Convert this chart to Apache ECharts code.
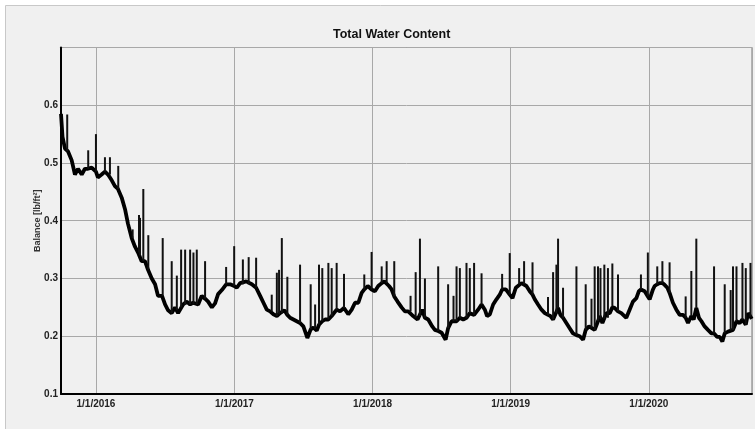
<!DOCTYPE html>
<html>
<head>
<meta charset="utf-8">
<script src="https://cdn.jsdelivr.net/npm/echarts@6/dist/echarts.min.js"></script>
<style>
html,body{margin:0;padding:0;background:#ffffff;}
#c{width:755px;height:429px;}
</style>
</head>
<body>
<div id="c"></div>
<script>
// Decimal-year dates and values of the total water content curve
const years = [
2015.747,2015.758,2015.776,2015.798,2015.824,2015.848,2015.870,2015.897,2015.920,2015.942,2015.969,
2016.000,2016.014,2016.041,2016.065,2016.087,2016.114,2016.137,2016.159,2016.186,2016.210,2016.231,
2016.258,2016.282,2016.304,2016.330,2016.354,2016.376,2016.403,2016.427,2016.448,2016.477,2016.499,
2016.521,2016.547,2016.571,2016.593,2016.629,2016.656,2016.680,2016.701,2016.738,2016.764,2016.788,
2016.810,2016.837,2016.860,2016.882,2016.909,2016.940,2016.969,2016.998,
2017.017,2017.041,2017.085,2017.126,2017.157,2017.186,2017.210,2017.234,2017.258,2017.282,2017.307,
2017.330,2017.362,2017.383,2017.403,2017.427,2017.451,2017.475,2017.499,2017.528,2017.552,2017.571,
2017.596,2017.612,2017.636,2017.656,2017.680,2017.704,2017.740,2017.764,2017.793,2017.824,2017.849,
2017.873,2017.897,2017.921,2017.940,2017.965,2017.993,
2018.017,2018.041,2018.066,2018.085,2018.119,2018.138,2018.157,2018.181,2018.210,2018.234,2018.258,
2018.294,2018.326,2018.359,2018.379,2018.403,2018.432,2018.451,2018.475,2018.500,2018.529,2018.547,
2018.572,2018.608,2018.632,2018.656,2018.680,2018.704,2018.735,2018.764,2018.789,2018.813,2018.829,
2018.849,2018.873,2018.897,2018.921,2018.938,2018.965,2018.993,
2019.013,2019.037,2019.078,2019.114,2019.138,2019.158,2019.174,2019.198,2019.223,2019.247,2019.270,
2019.288,2019.307,2019.343,2019.360,2019.379,2019.403,2019.427,2019.451,2019.476,2019.500,2019.524,
2019.543,2019.567,2019.608,2019.632,2019.644,2019.664,2019.693,2019.717,2019.736,2019.753,2019.777,
2019.801,2019.837,2019.861,2019.885,2019.910,2019.928,2019.943,2019.970,2019.993,
2020.006,2020.030,2020.042,2020.061,2020.078,2020.098,2020.114,2020.134,2020.150,2020.174,2020.199,
2020.223,2020.247,2020.266,2020.283,2020.307,2020.324,2020.343,2020.362,2020.380,2020.403,2020.427,
2020.452,2020.471,2020.492,2020.512,2020.531,2020.548,2020.572,2020.608,2020.633,2020.656,2020.676,
2020.700,2020.717,2020.734,2020.743
];
const values = [
0.585,0.545,0.525,0.520,0.505,0.480,0.490,0.480,0.490,0.490,0.492,
0.485,0.475,0.480,0.485,0.480,0.470,0.460,0.455,0.440,0.420,0.395,
0.370,0.355,0.345,0.330,0.330,0.315,0.300,0.290,0.270,0.270,0.255,
0.245,0.240,0.250,0.240,0.255,0.260,0.255,0.258,0.255,0.270,0.265,
0.260,0.250,0.257,0.273,0.280,0.290,0.290,0.287,
0.284,0.292,0.295,0.290,0.284,0.270,0.258,0.246,0.243,0.238,0.235,
0.240,0.245,0.237,0.232,0.229,0.226,0.223,0.217,0.197,0.212,0.215,
0.210,0.220,0.226,0.229,0.229,0.235,0.246,0.243,0.249,0.238,0.246,
0.258,0.258,0.275,0.281,0.287,0.281,
0.278,0.287,0.292,0.295,0.287,0.281,0.269,0.260,0.250,0.243,0.243,
0.235,0.229,0.246,0.232,0.229,0.217,0.211,0.209,0.206,0.194,0.214,
0.226,0.226,0.232,0.229,0.232,0.240,0.237,0.246,0.255,0.246,0.235,
0.238,0.255,0.264,0.272,0.281,0.281,0.272,
0.266,0.284,0.292,0.287,0.278,0.272,0.264,0.255,0.246,0.240,0.237,
0.235,0.229,0.249,0.237,0.232,0.223,0.214,0.205,0.202,0.200,0.194,
0.211,0.217,0.211,0.226,0.235,0.223,0.240,0.240,0.250,0.249,0.243,
0.240,0.232,0.246,0.260,0.266,0.278,0.281,0.278,0.269,
0.264,0.281,0.287,0.290,0.292,0.292,0.289,0.284,0.275,0.258,0.246,
0.237,0.237,0.232,0.223,0.235,0.229,0.249,0.232,0.226,0.217,0.211,
0.205,0.205,0.199,0.199,0.191,0.205,0.208,0.211,0.226,0.223,0.229,
0.220,0.240,0.234,0.230
];
// Short-lived peaks: date, level before the peak, peak level
const spikeYears = [
2015.792,2015.944,2016.000,2016.065,2016.101,2016.161,2016.265,2016.311,2016.318,2016.342,2016.378,
2016.482,2016.547,2016.584,2016.615,2016.644,2016.680,2016.704,2016.728,2016.788,2016.940,2016.998,
2017.061,2017.103,2017.157,2017.270,2017.307,2017.323,2017.343,2017.383,2017.475,2017.552,2017.584,
2017.612,2017.636,2017.680,2017.704,2017.740,2017.793,2017.940,2017.993,
2018.066,2018.102,2018.157,2018.275,2018.312,2018.343,2018.379,2018.475,2018.547,2018.586,2018.608,
2018.632,2018.680,2018.704,2018.735,2018.789,2018.938,2018.993,
2019.061,2019.097,2019.158,2019.270,2019.307,2019.331,2019.343,2019.379,2019.476,2019.543,2019.585,
2019.608,2019.632,2019.650,2019.678,2019.704,2019.736,2019.777,2019.943,2019.993,
2020.061,2020.098,2020.150,2020.266,2020.307,2020.343,2020.471,2020.548,2020.591,2020.608,2020.633,
2020.676,2020.700,2020.734
];
const spikeBase = [
0.520,0.490,0.485,0.485,0.480,0.455,0.370,0.345,0.340,0.330,0.315,
0.270,0.240,0.245,0.250,0.255,0.255,0.255,0.255,0.265,0.290,0.287,
0.290,0.290,0.284,0.243,0.235,0.238,0.240,0.237,0.223,0.212,0.213,
0.220,0.226,0.229,0.235,0.246,0.249,0.281,0.281,
0.292,0.292,0.269,0.243,0.232,0.235,0.232,0.209,0.214,0.226,0.226,
0.232,0.232,0.240,0.237,0.255,0.281,0.272,
0.290,0.290,0.272,0.237,0.229,0.240,0.249,0.232,0.202,0.211,0.215,
0.211,0.226,0.230,0.230,0.232,0.252,0.243,0.281,0.269,
0.290,0.292,0.275,0.232,0.235,0.249,0.205,0.205,0.210,0.211,0.226,
0.229,0.220,0.234
];
const spikePeak = [
0.584,0.522,0.550,0.510,0.510,0.495,0.385,0.410,0.405,0.455,0.375,
0.370,0.330,0.305,0.350,0.350,0.350,0.345,0.350,0.330,0.320,0.356,
0.333,0.337,0.336,0.272,0.310,0.315,0.370,0.303,0.324,0.290,0.255,
0.324,0.318,0.327,0.318,0.327,0.308,0.307,0.346,
0.321,0.330,0.330,0.270,0.311,0.369,0.300,0.321,0.290,0.270,0.321,
0.318,0.327,0.318,0.327,0.309,0.308,0.344,
0.318,0.330,0.328,0.268,0.311,0.324,0.369,0.284,0.321,0.290,0.265,
0.321,0.321,0.318,0.324,0.318,0.326,0.307,0.307,0.345,
0.321,0.330,0.328,0.269,0.313,0.369,0.321,0.290,0.280,0.321,0.321,
0.327,0.318,0.327
];
const yTicks = [0.1, 0.2, 0.3, 0.4, 0.5, 0.6];

function toTime(yr) {
  const y = Math.floor(yr);
  const a = new Date(y, 0, 1).getTime();
  const b = new Date(y + 1, 0, 1).getTime();
  return a + (yr - y) * (b - a);
}
const lineData = years.map((yr, i) => [toTime(yr), values[i]]);
const spikeData = spikeYears.map((yr, i) => [toTime(yr), spikeBase[i], spikePeak[i]]);

const chart = echarts.init(document.getElementById('c'), null, {renderer: 'canvas'});
const lblFont = {fontFamily: 'Liberation Sans, Arial, sans-serif', fontSize: 10, fontWeight: 'bold', color: '#222'};

chart.setOption({
  backgroundColor: '#ffffff',
  animation: false,
  graphic: [{
    type: 'rect', z: -10, silent: true,
    shape: {x: 5.5, y: 5.5, width: 760, height: 440},
    style: {fill: '#f0f0f0', stroke: '#c8c8c8', lineWidth: 1}
  }, {
    type: 'text', z: 10, silent: true,
    left: 333, top: 28,
    style: {text: 'Total Water Content', fill: '#111',
            font: 'bold 12.5px "Liberation Sans", Arial, sans-serif'}
  }],
  grid: {left: 61, top: 47.5, right: 3, bottom: 35, show: true, borderColor: '#777', borderWidth: 1, backgroundColor: 'transparent'},
  xAxis: {
    type: 'time',
    min: toTime(2015.747),
    max: toTime(2020.745),
    minInterval: 365 * 86400000,
    maxInterval: 366 * 86400000,
    axisLine: {show: true, lineStyle: {color: '#000', width: 2}},
    axisTick: {show: false},
    splitLine: {show: true, lineStyle: {color: '#a8a8a8', width: 1}},
    axisLabel: Object.assign({}, lblFont, {
      margin: 5, showMinLabel: false, showMaxLabel: false, hideOverlap: false,
      formatter: function (v) {
        const d = new Date(v);
        return (d.getMonth() + 1) + '/' + d.getDate() + '/' + d.getFullYear();
      }
    })
  },
  yAxis: {
    type: 'value',
    min: 0.1, max: 0.7, interval: 0.1,
    name: 'Balance [lb/ft²]',
    nameLocation: 'middle',
    nameGap: 19,
    nameMoveOverlap: false,
    nameTextStyle: {fontFamily: 'Liberation Sans, Arial, sans-serif', fontSize: 9, fontWeight: 'bold', color: '#333'},
    axisLine: {show: true, lineStyle: {color: '#000', width: 2}},
    axisTick: {show: false},
    splitLine: {show: true, lineStyle: {color: '#a8a8a8', width: 1}},
    axisLabel: Object.assign({}, lblFont, {
      margin: 3, showMaxLabel: false,
      formatter: function (v) { return yTicks.some(t => Math.abs(t - v) < 1e-6) ? v.toFixed(1) : ''; }
    })
  },
  series: [
    {
      type: 'line', data: lineData, showSymbol: false, symbol: 'none',
      lineStyle: {color: '#000', width: 3.8}, z: 3
    },
    {
      type: 'custom', data: spikeData, z: 4,
      renderItem: function (params, api) {
        const p1 = api.coord([api.value(0), api.value(1)]);
        const p2 = api.coord([api.value(0), api.value(2)]);
        return {type: 'line', shape: {x1: p1[0], y1: p1[1], x2: p2[0], y2: p2[1]},
                style: {stroke: '#111', lineWidth: 2}};
      },
      encode: {x: 0, y: [1, 2]}
    }
  ]
});
</script>
</body>
</html>
